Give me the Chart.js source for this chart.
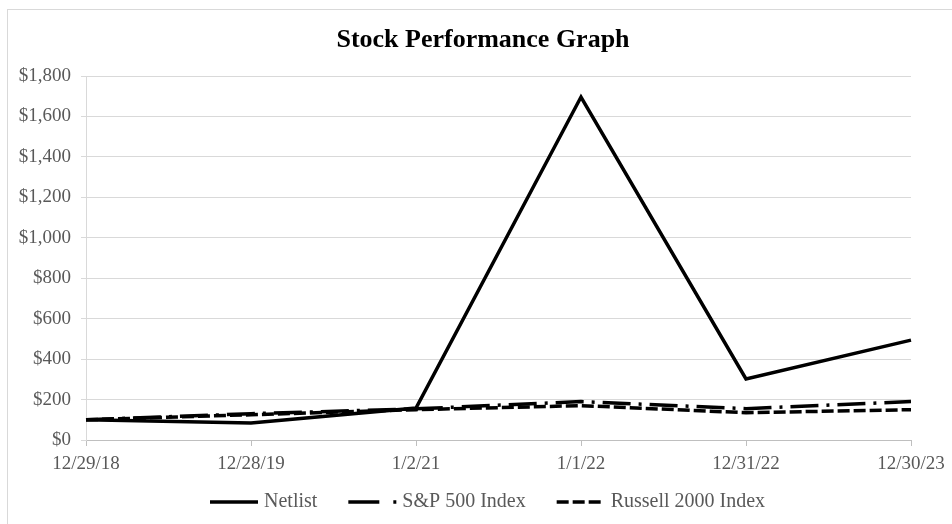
<!DOCTYPE html>
<html>
<head>
<meta charset="utf-8">
<script src="https://cdn.jsdelivr.net/npm/chart.js@4"></script>
<style>
  html, body { margin: 0; padding: 0; background: #fff; }
  #frame { position: absolute; left: 7px; top: 9px; width: 1000px; height: 600px;
           border-left: 1px solid #d9d9d9; border-top: 1px solid #d9d9d9; }
  #c { position: absolute; left: 0; top: 0; }
</style>
</head>
<body>
<div id="frame"></div>
<canvas id="c" width="952" height="524"></canvas>
<script>
const categories = ["12/29/18", "12/28/19", "1/2/21", "1/1/22", "12/31/22", "12/30/23"];
const seriesNames = ["Netlist", "S&P 500 Index", "Russell 2000 Index"];
const netlist = [100, 84, 158, 1696, 302, 494];
const sp500 = [100, 130, 154, 190, 155, 190];
const russell2000 = [100, 125, 150, 170, 135, 150];
const yTicks = [0, 200, 400, 600, 800, 1000, 1200, 1400, 1600, 1800];

const FONT = "'Liberation Serif', 'Times New Roman', serif";
const TEXT = "#595959";

const legendDashes = [[], [31, 14, 3, 100], [12, 4, 12, 4, 12, 100]];

const customLegend = {
  id: 'customLegend',
  afterDraw(chart) {
    const ctx = chart.ctx;
    ctx.save();
    ctx.font = "20px " + FONT;
    ctx.textBaseline = 'middle';
    const y = 502;
    let x = 210;
    const keyW = 48;
    chart.data.datasets.forEach((ds, i) => {
      ctx.strokeStyle = '#000';
      ctx.lineWidth = 3.5;
      ctx.lineCap = 'butt';
      ctx.setLineDash(legendDashes[i]);
      ctx.beginPath();
      ctx.moveTo(x, y);
      ctx.lineTo(x + keyW, y);
      ctx.stroke();
      ctx.setLineDash([]);
      ctx.fillStyle = TEXT;
      const tx = x + keyW + 6;
      ctx.fillText(ds.label, tx, y);
      x = tx + ctx.measureText(ds.label).width + 31;
    });
    ctx.restore();
  }
};

new Chart(document.getElementById('c'), {
  type: 'line',
  data: {
    labels: categories,
    datasets: [
      { label: seriesNames[0], data: netlist, borderColor: '#000', borderWidth: 3.5,
        pointRadius: 0, tension: 0, fill: false },
      { label: seriesNames[1], data: sp500, borderColor: '#000', borderWidth: 3.5,
        borderDash: [28, 8, 3, 8], pointRadius: 0, tension: 0, fill: false },
      { label: seriesNames[2], data: russell2000, borderColor: '#000', borderWidth: 3.5,
        borderDash: [12, 4], pointRadius: 0, tension: 0, fill: false }
    ]
  },
  options: {
    responsive: false,
    animation: false,
    devicePixelRatio: 1,
    layout: { padding: { top: 0, right: 0, bottom: 0, left: 14 } },
    plugins: {
      legend: { display: false },
      tooltip: { enabled: false },
      title: {
        display: true,
        text: 'Stock Performance Graph',
        color: '#000',
        font: { family: FONT, size: 26, weight: 'bold', lineHeight: 1.2 },
        padding: { top: 25, bottom: 19.8 }
      }
    },
    scales: {
      x: {
        type: 'category',
        offset: false,
        grid: { display: true, drawOnChartArea: false, drawTicks: true, tickLength: 6, color: '#bfbfbf' },
        border: { display: true, color: '#bfbfbf', width: 1 },
        ticks: { color: TEXT, font: { family: FONT, size: 19 }, padding: 7, maxRotation: 0, autoSkip: false },
        afterFit(scale) { scale.height = 84; }
      },
      y: {
        min: 0, max: 1800,
        afterBuildTicks(scale) { scale.ticks = yTicks.map(v => ({ value: v })); },
        grid: { color: '#d9d9d9', lineWidth: 1, drawTicks: true, tickLength: 5 },
        border: { display: true, color: '#d9d9d9', width: 1 },
        ticks: {
          color: TEXT, font: { family: FONT, size: 19 }, padding: 10,
          callback: v => '$' + Number(v).toLocaleString('en-US')
        },
        afterFit(scale) { scale.width = 72; }
      },
      yRightSpace: {
        position: 'right',
        display: true,
        min: 0, max: 1800,
        grid: { display: false, drawTicks: false },
        border: { display: false },
        ticks: { display: false },
        afterFit(scale) { scale.width = 41; }
      }
    }
  },
  plugins: [customLegend]
});
</script>
</body>
</html>
